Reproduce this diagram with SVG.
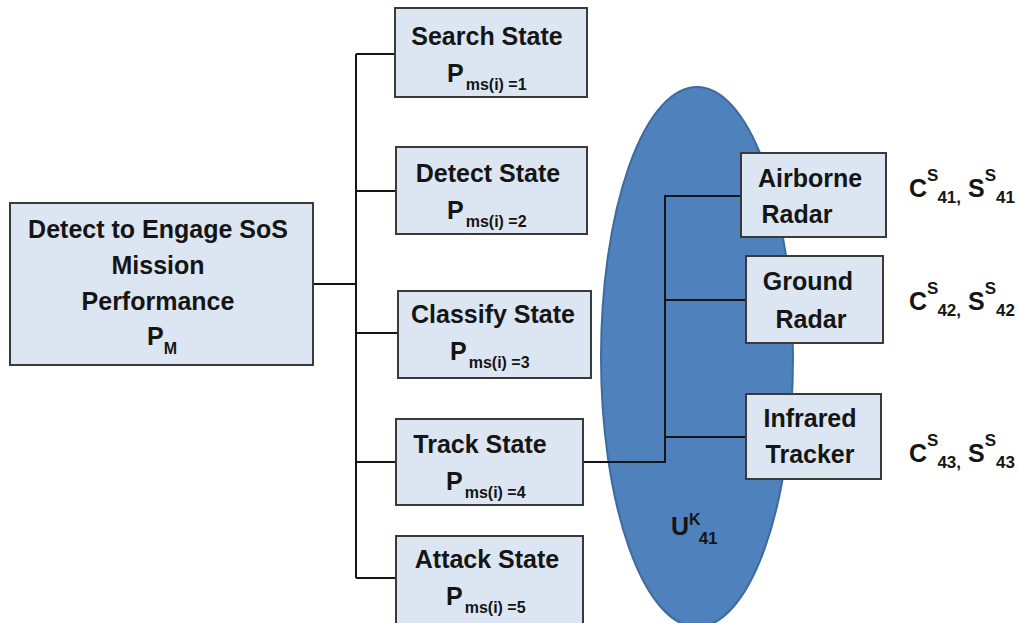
<svg xmlns="http://www.w3.org/2000/svg" width="1018" height="623" viewBox="0 0 1018 623">
<style>
.box{fill:#dce6f2;stroke:#3a3a3a;stroke-width:2}
.t{font-family:"Liberation Sans",Arial,sans-serif;font-weight:bold;font-size:25px;fill:#151515}
.sm{font-size:16px}
.sl{font-size:17px}
.ln{stroke:#151515;stroke-width:2;fill:none}
</style>
<rect width="1018" height="623" fill="#ffffff"/>
<g id="ellipse-U41">
<ellipse cx="697" cy="357" rx="96" ry="270" fill="#4f81bd" stroke="#3d6b9f" stroke-width="2"/>
<text class="t" x="671" y="535">U<tspan class="sm" dy="-10">K</tspan><tspan class="sl" dy="19" dx="-2">41</tspan></text>
</g>
<g id="connectors">
<path class="ln" d="M313 284H356M356 54V578M356 54H395M356 191H396M356 333H398M356 462H396M356 578H396"/>
<path class="ln" d="M583 462H665V196H741M665 300H746M665 437H746"/>
</g>
<g id="main">
<rect class="box" x="10" y="203" width="303" height="162"/>
<text class="t" x="158" y="238" text-anchor="middle">Detect to Engage SoS</text>
<text class="t" x="158" y="274" text-anchor="middle">Mission</text>
<text class="t" x="158" y="310" text-anchor="middle">Performance</text>
<text class="t" x="147" y="345">P<tspan class="sm" dy="9">M</tspan></text>
</g>
<g id="search">
<rect class="box" x="395" y="8" width="192" height="89"/>
<text class="t" x="487" y="45" text-anchor="middle">Search State</text>
<text class="t" x="447" y="82">P<tspan class="sm" dy="8" dx="2">ms(i) =1</tspan></text>
</g>
<g id="detect">
<rect class="box" x="396" y="147" width="191" height="87"/>
<text class="t" x="488" y="182" text-anchor="middle">Detect State</text>
<text class="t" x="447" y="219">P<tspan class="sm" dy="8" dx="2">ms(i) =2</tspan></text>
</g>
<g id="classify">
<rect class="box" x="398" y="291" width="193" height="87"/>
<text class="t" x="493" y="323" text-anchor="middle">Classify State</text>
<text class="t" x="450" y="360">P<tspan class="sm" dy="8" dx="2">ms(i) =3</tspan></text>
</g>
<g id="track">
<rect class="box" x="396" y="419" width="187" height="86"/>
<text class="t" x="480" y="453" text-anchor="middle">Track State</text>
<text class="t" x="446" y="490">P<tspan class="sm" dy="8" dx="2">ms(i) =4</tspan></text>
</g>
<g id="attack">
<rect class="box" x="396" y="536" width="187" height="90"/>
<text class="t" x="487" y="568" text-anchor="middle">Attack State</text>
<text class="t" x="446" y="605">P<tspan class="sm" dy="8" dx="2">ms(i) =5</tspan></text>
</g>
<g id="airborne">
<rect class="box" x="741" y="153" width="145" height="84"/>
<text class="t" x="810" y="187" text-anchor="middle">Airborne</text>
<text class="t" x="797" y="223" text-anchor="middle">Radar</text>
</g>
<g id="ground">
<rect class="box" x="746" y="256" width="137" height="87"/>
<text class="t" x="808" y="290" text-anchor="middle">Ground</text>
<text class="t" x="811" y="328" text-anchor="middle">Radar</text>
</g>
<g id="infrared">
<rect class="box" x="746" y="394" width="135" height="85"/>
<text class="t" x="810" y="427" text-anchor="middle">Infrared</text>
<text class="t" x="810" y="463" text-anchor="middle">Tracker</text>
</g>
<g id="labels">
<text class="t" x="909" y="197">C<tspan class="sl" dy="-16">S</tspan><tspan class="sl" dy="22" dx="-1">41,</tspan><tspan dy="-6"> S</tspan><tspan class="sl" dy="-16">S</tspan><tspan class="sl" dy="22" dx="0">41</tspan></text>
<text class="t" x="909" y="310">C<tspan class="sl" dy="-16">S</tspan><tspan class="sl" dy="22" dx="-1">42,</tspan><tspan dy="-6"> S</tspan><tspan class="sl" dy="-16">S</tspan><tspan class="sl" dy="22" dx="0">42</tspan></text>
<text class="t" x="909" y="462">C<tspan class="sl" dy="-16">S</tspan><tspan class="sl" dy="22" dx="-1">43,</tspan><tspan dy="-6"> S</tspan><tspan class="sl" dy="-16">S</tspan><tspan class="sl" dy="22" dx="0">43</tspan></text>
</g>
</svg>
